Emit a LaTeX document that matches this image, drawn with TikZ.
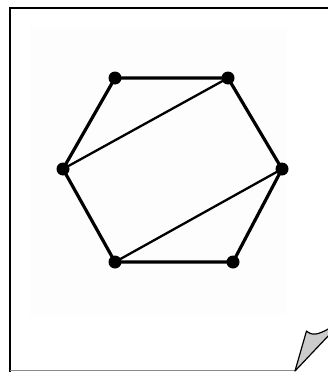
\documentclass[tikz,border=0pt]{standalone}
\begin{document}
\begin{tikzpicture}[x=1pt,y=-1pt,
  vtx/.style={circle,fill=black,inner sep=0pt,minimum size=13pt},
  edge/.style={line width=3.2pt},
  diag/.style={line width=2.3pt}]
\useasboundingbox (0,0) rectangle (328,372);
\fill[white] (0,0) rectangle (328,372);
\fill[black!0.8] (30,27) rectangle (287,315);
% frame
\draw[line width=2pt] (9.5,372) -- (9.5,8) -- (330,8);
\draw[line width=1.5pt,black!45] (9.5,370.5) -- (296,370.5);
% vertices
\node[vtx] (tl) at (115,78) {};
\node[vtx] (tr) at (228,78) {};
\node[vtx] (l) at (63,169) {};
\node[vtx] (r) at (282,169) {};
\node[vtx] (bl) at (115,262) {};
\node[vtx] (br) at (233,262) {};
% edges
\draw[edge] (tl.center) -- (tr.center) -- (r.center) -- (br.center) -- (bl.center) -- (l.center) -- cycle;
\draw[diag] (l.center) -- (tr.center);
\draw[diag] (bl.center) -- (r.center);
% page curl
\draw[fill=black!20,line width=1.2pt,line join=round]
  (295,371) -- (306.5,331) .. controls (312,336) and (318,335) .. (330,328)
  -- (330,334) -- cycle;
\end{tikzpicture}
\end{document}
